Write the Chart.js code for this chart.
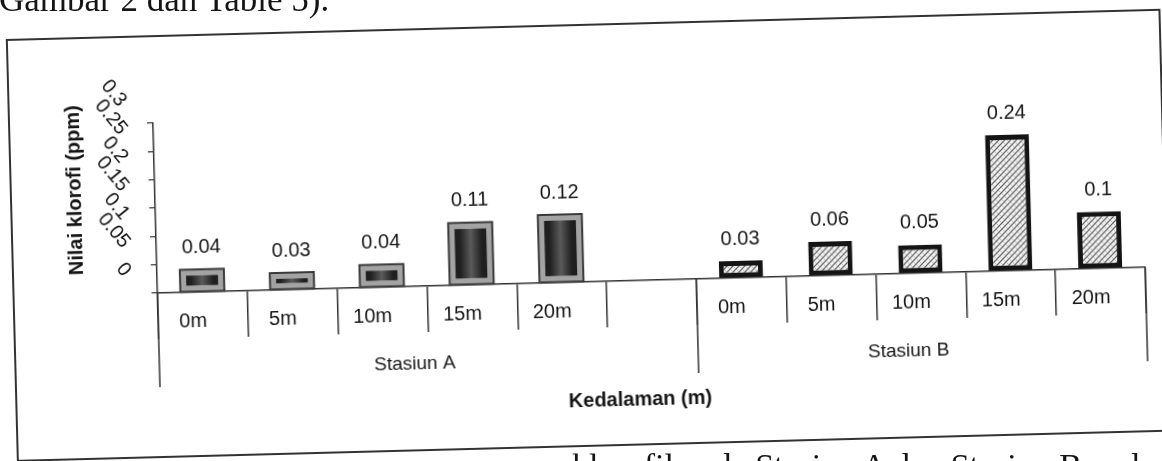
<!DOCTYPE html>
<html>
<head>
<meta charset="utf-8">
<script src="https://cdn.jsdelivr.net/npm/chart.js@4.4.1/dist/chart.umd.min.js"></script>
<style>
  html, body { margin: 0; padding: 0; background: #fff; }
  body { width: 1162px; height: 461px; overflow: hidden; position: relative; }
  .page {
    position: absolute; z-index: 2; white-space: nowrap; line-height: 1; color: #151515;
    font-family: "Liberation Serif", "Times New Roman", serif; font-size: 35px;
  }
  #pageTop { left: -1px; top: -18px; }
  #pageBottom { left: 572px; top: 449px; font-size: 34px; }
  #sheet {
    position: absolute; z-index: 1; left: 0; top: 0; width: 1180px; height: 470px;
    transform: rotate(-1.5deg); transform-origin: 581px 230px;
  }
</style>
</head>
<body>
<div class="page" id="pageTop">Gambar 2 dan Table 5).</div>
<div class="page" id="pageBottom">klorofil pada Stasiun A dan Stasiun B pada</div>
<div id="sheet"><canvas id="chart" width="1180" height="470"></canvas></div>

<script>
// Chlorophyll per depth at the two stations
const depths = ['0m', '5m', '10m', '15m', '20m'];
const stations = ['Stasiun A', 'Stasiun B'];
const klorofilA = [0.04, 0.03, 0.04, 0.11, 0.12];
const klorofilB = [0.03, 0.06, 0.05, 0.24, 0.1];
const yTicks = [0, 0.05, 0.1, 0.15, 0.2, 0.25, 0.3];
const yTickLabels = ['0', '0.05', '0.1', '0.15', '0.2', '0.25', '0.3'];
const xTitle = 'Kedalaman (m)';
const yTitle = 'Nilai klorofi (ppm)';

// Station A keeps an empty sixth slot before Station B begins
const categories = [...depths, '', ...depths];
const stationSpans = [[0, 5], [6, 10]];
const seriesA = [...klorofilA, null, null, null, null, null, null];
const seriesB = [null, null, null, null, null, null, ...klorofilB];

// Layout of the sheet (canvas pixels)
const CANVAS_W = 1180, CANVAS_H = 470;
const PLOT = { left: 156, right: 1144, top: 112, bottom: 282 };
const FRAME = { x: 12, y: 25, w: 1153, h: 421 };
const BAR_PCT = 0.49;
const LEVEL1_H = 46, LEVEL2_H = 94;
const SANS = '"Liberation Sans", Arial, sans-serif';
const INK = '#151515';

// Cross-hatched fill used by the Station B bars
function makeHatch() {
  const tile = document.createElement('canvas');
  tile.width = 6; tile.height = 6;
  const g = tile.getContext('2d');
  g.fillStyle = '#f4f4f4';
  g.fillRect(0, 0, 6, 6);
  g.strokeStyle = '#555';
  g.lineWidth = 1.2;
  g.beginPath();
  g.moveTo(-1, 7); g.lineTo(7, -1);
  g.moveTo(-4, 4); g.lineTo(4, -4);
  g.moveTo(2, 10); g.lineTo(10, 2);
  g.stroke();
  g.strokeStyle = '#aaa';
  g.lineWidth = 0.8;
  g.beginPath();
  g.moveTo(-1, -1); g.lineTo(7, 7);
  g.stroke();
  return g.createPattern(tile, 'repeat');
}
const hatch = makeHatch();

// Dark shaded core of the Station A bars
function shadeA(ctx) {
  const chart = ctx.chart;
  const xs = chart.scales && chart.scales.x;
  if (!xs || typeof ctx.dataIndex !== 'number') return '#333';
  const cx = xs.getPixelForValue(ctx.dataIndex);
  const half = (xs.width / categories.length) * BAR_PCT / 2;
  if (!Number.isFinite(cx) || !Number.isFinite(half) || half <= 0) return '#333';
  const g = chart.ctx.createLinearGradient(cx - half, 0, cx + half, 0);
  g.addColorStop(0, '#1c1c1c');
  g.addColorStop(0.25, '#202020');
  g.addColorStop(0.5, '#5a5a5a');
  g.addColorStop(0.75, '#202020');
  g.addColorStop(1, '#1c1c1c');
  return g;
}

const sheetDecor = {
  id: 'sheetDecor',
  beforeDraw(chart) {
    const c = chart.ctx;
    c.save();
    c.strokeStyle = '#333';
    c.lineWidth = 2;
    c.strokeRect(FRAME.x, FRAME.y, FRAME.w, FRAME.h);
    c.restore();
  },
  afterDatasetsDraw(chart) {
    const c = chart.ctx;
    c.save();
    // thin outline round the Station A bars
    chart.getDatasetMeta(0).data.forEach((bar, i) => {
      if (seriesA[i] === null) return;
      const p = bar.getProps(['x', 'y', 'base', 'width'], true);
      c.strokeStyle = '#3a3a3a';
      c.lineWidth = 2;
      c.strokeRect(p.x - p.width / 2, p.y, p.width, p.base - p.y);
    });
    // value labels above every bar
    c.fillStyle = INK;
    c.font = '20px ' + SANS;
    c.textAlign = 'center';
    c.textBaseline = 'middle';
    chart.data.datasets.forEach((ds, d) => {
      chart.getDatasetMeta(d).data.forEach((bar, i) => {
        const v = ds.data[i];
        if (v === null) return;
        const p = bar.getProps(['x', 'y'], true);
        c.fillText(String(v), p.x, p.y - 22);
      });
    });
    c.restore();
  },
  afterDraw(chart) {
    const c = chart.ctx;
    const xs = chart.scales.x, ys = chart.scales.y;
    const area = chart.chartArea;
    const step = xs.width / categories.length;
    c.save();
    c.fillStyle = INK;

    // y tick labels, slanted
    c.font = '20px ' + SANS;
    c.textAlign = 'right';
    c.textBaseline = 'middle';
    yTicks.forEach((v, i) => {
      const py = ys.getPixelForValue(v);
      c.save();
      c.translate(area.left - 30, py - 20);
      c.rotate(52 * Math.PI / 180);
      c.fillText(yTickLabels[i], 0, 0);
      c.restore();
    });

    // first row of category labels
    c.font = '20px ' + SANS;
    c.textAlign = 'center';
    categories.forEach((lab, i) => {
      if (!lab) return;
      c.fillText(lab, xs.getPixelForValue(i) - 10, area.bottom + 29);
    });

    // station separators reaching the second row
    c.strokeStyle = '#333';
    c.lineWidth = 1.5;
    const edges = [area.left, xs.getPixelForValue(stationSpans[1][0]) - step / 2, area.right];
    c.beginPath();
    edges.forEach(x => { c.moveTo(x, area.bottom); c.lineTo(x, area.bottom + LEVEL2_H); });
    c.stroke();

    // station names
    c.font = '19px ' + SANS;
    stationSpans.forEach(([a, b], k) => {
      const x0 = xs.getPixelForValue(a) - step / 2;
      const x1 = xs.getPixelForValue(b) + step / 2;
      c.fillText(stations[k], (x0 + x1) / 2 - 14, area.bottom + 78);
    });

    // axis titles
    c.font = 'bold 20px ' + SANS;
    c.fillText(xTitle, (area.left + area.right) / 2 - 14, area.bottom + 119);
    c.save();
    c.translate(76, 177);
    c.rotate(-Math.PI / 2);
    c.font = 'bold 20px ' + SANS;
    c.fillText(yTitle, 0, 0);
    c.restore();

    c.restore();
  }
};

new Chart(document.getElementById('chart'), {
  type: 'bar',
  data: {
    labels: categories,
    datasets: [
      {
        label: stations[0], data: seriesA,
        backgroundColor: shadeA, borderColor: '#a3a3a3', borderWidth: 6,
        borderSkipped: false, grouped: false,
        barPercentage: BAR_PCT, categoryPercentage: 1
      },
      {
        label: stations[1], data: seriesB,
        backgroundColor: hatch, borderColor: '#141414', borderWidth: 5,
        borderSkipped: false, grouped: false,
        barPercentage: BAR_PCT, categoryPercentage: 1
      }
    ]
  },
  options: {
    responsive: false,
    animation: false,
    devicePixelRatio: 1,
    layout: { padding: { left: 0, right: CANVAS_W - PLOT.right, top: PLOT.top, bottom: 0 } },
    plugins: { legend: { display: false }, tooltip: { enabled: false } },
    scales: {
      x: {
        offset: true,
        grid: { display: true, offset: true, drawOnChartArea: false, drawTicks: true,
                tickLength: LEVEL1_H, color: '#333', lineWidth: 1.5 },
        border: { display: true, color: '#333', width: 1.5 },
        ticks: { display: false },
        afterFit(s) { s.height = CANVAS_H - PLOT.bottom; }
      },
      y: {
        min: 0, max: 0.3,
        grid: { display: true, drawOnChartArea: false, drawTicks: true,
                tickLength: 6, color: '#333', lineWidth: 1.2 },
        border: { display: true, color: '#333', width: 1.5 },
        ticks: { display: false, stepSize: 0.05 },
        afterFit(s) { s.width = PLOT.left; }
      }
    }
  },
  plugins: [sheetDecor]
});
</script>
</body>
</html>
